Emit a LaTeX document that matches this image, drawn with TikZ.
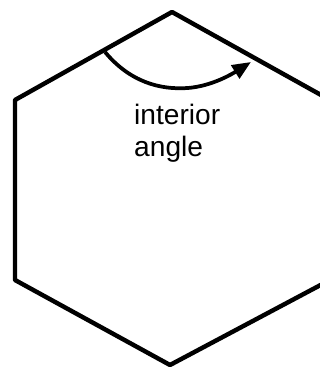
\documentclass[tikz,border=0pt]{standalone}
\usepackage{fontspec}
\setmainfont{Liberation Sans}
\usetikzlibrary{arrows.meta}
\tikzset{
  side/.style={line width=3.8pt, line join=round},
  anglearc/.style={line width=3.2pt, -{Triangle[length=16pt, width=13pt]}},
  lbl/.style={font=\fontsize{24}{27}\selectfont, align=left, inner sep=0pt}
}
\begin{document}
\begin{tikzpicture}[x=0.03cm, y=-0.03cm]
  \useasboundingbox (0,0) rectangle (320,371);
  \clip (0,0) rectangle (320,371);
  % corners of the hexagon
  \coordinate (top) at (172,12);
  \coordinate (ur) at (330,100);
  \coordinate (lr) at (330,280);
  \coordinate (bot) at (170,365);
  \coordinate (ll) at (15,280);
  \coordinate (ul) at (15,100);
  \draw[side] (top) -- (ur) -- (lr) -- (bot) -- (ll) -- (ul) -- cycle;
  % the angle at the top corner
  \coordinate (arcstart) at (105,52);
  \coordinate (arcend) at (251,62);
  \draw[anglearc] (arcstart) .. controls (130,82) and (160,90) .. (188,88)
    .. controls (212,86) and (232,74) .. (arcend);
  \node[lbl, anchor=north west] (label) at (134,104) {interior\\angle};
\end{tikzpicture}
\end{document}
